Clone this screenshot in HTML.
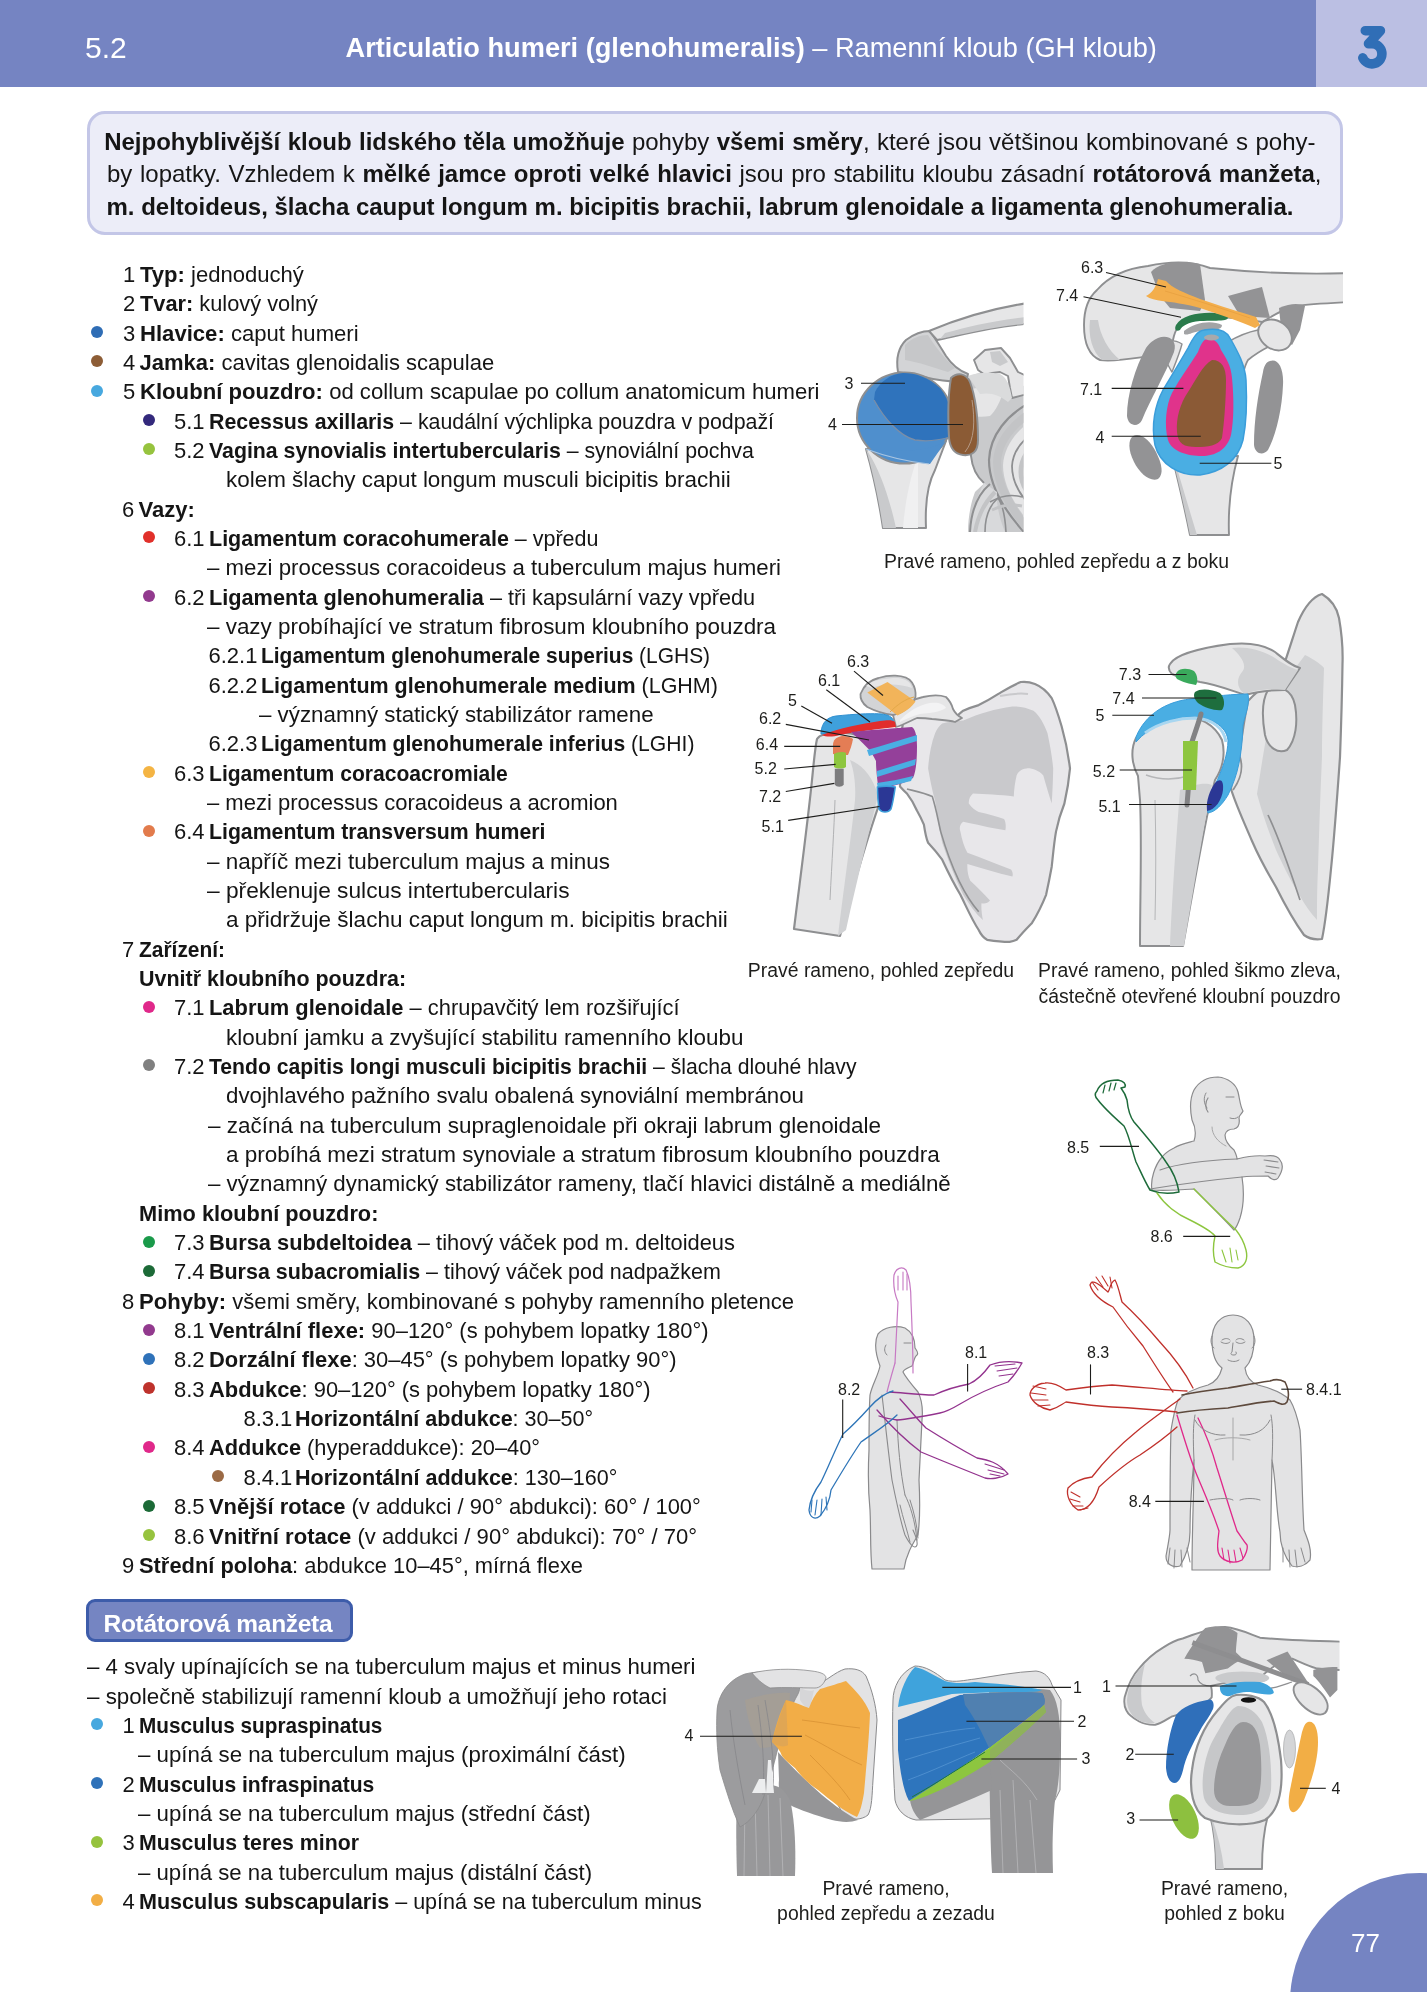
<!DOCTYPE html>
<html><head><meta charset="utf-8"><style>
*{margin:0;padding:0;box-sizing:border-box}
html,body{width:1427px;height:1992px;overflow:hidden;background:#fff}
body{position:relative;font-family:'Liberation Sans', sans-serif;color:#151515;will-change:transform}
.ln{position:absolute;white-space:nowrap;font-size:22px;line-height:30px}
.dot{position:absolute;width:12px;height:12px;border-radius:50%}
b{font-weight:bold}
#hdr{position:absolute;left:0;top:0;width:1427px;height:86.6px;background:#7584c2}
#hdr3{position:absolute;left:1316px;top:0;width:111px;height:86.6px;background:#bbbfe3}
.ht{position:absolute;color:#fff;white-space:nowrap;line-height:40px}
#intro{position:absolute;left:86.5px;top:110.8px;width:1256.3px;height:124.1px;background:#ecedf8;border:3.2px solid #c3c6e7;border-radius:18px}
.it{position:absolute;white-space:nowrap;font-size:24px;line-height:32px}
#rot{position:absolute;left:86.3px;top:1598.7px;width:267px;height:43.4px;background:#7585c2;border:3px solid #3d5caa;border-radius:9px}
#pg{position:absolute;left:1290.4px;top:1872.9px;width:259.2px;height:259.2px;border-radius:50%;background:#7584c2}
svg{position:absolute;left:0;top:0}
.cap{position:absolute;white-space:nowrap;font-size:19px;line-height:24px;text-align:center;color:#1d1d1b}
</style></head><body>
<div id="hdr"></div><div id="hdr3"></div>
<div class="ht" style="left:85px;top:27.60px;font-size:30px">5.2</div>
<div class="ht" style="left:345.5px;top:28.08px;font-size:27.2px"><b>Articulatio humeri (glenohumeralis)</b> – Ramenní kloub (GH kloub)</div>
<svg width="1427" height="90" style="position:absolute;left:0;top:0"><path d="M1365.3,30.7 H1380.4 L1368.5,43.8 H1372 A10,10 0 1 1 1362.8,57.9" fill="none" stroke="#306eb6" stroke-width="9.6" stroke-linecap="round" stroke-linejoin="round"/></svg>
<div id="intro"></div>
<div class="it" style="left:104.2px;width:1211.3px;text-align:justify;text-align-last:justify;top:125.68px"><b>Nejpohyblivější kloub lidského těla umožňuje</b> pohyby <b>všemi směry</b>, které jsou většinou kombinované s pohy-</div>
<div class="it" style="left:107px;width:1214.5px;text-align:justify;text-align-last:justify;top:158.18px">by lopatky. Vzhledem k <b>mělké jamce oproti velké hlavici</b> jsou pro stabilitu kloubu zásadní <b>rotátorová manžeta</b>,</div>
<div class="it" style="left:106.5px;top:190.68px"><b>m. deltoideus, šlacha cauput longum m. bicipitis brachii, labrum glenoidale a ligamenta glenohumeralia.</b></div>
<div class="ln" style="left:123.0px;top:259.88px">1</div>
<div class="ln" style="left:139.5px;top:259.88px;transform:scaleX(1.0026);transform-origin:0 0"><b>Typ:</b> jednoduchý</div>
<div class="ln" style="left:123.0px;top:289.22px">2</div>
<div class="ln" style="left:139.5px;top:289.22px;transform:scaleX(0.9903);transform-origin:0 0"><b>Tvar:</b> kulový volný</div>
<div class="ln" style="left:123.0px;top:318.56px">3</div>
<div class="ln" style="left:139.5px;top:318.56px;transform:scaleX(1.0042);transform-origin:0 0"><b>Hlavice:</b> caput humeri</div>
<div class="dot" style="left:91px;top:325.98px;background:#2f6db5"></div>
<div class="ln" style="left:123.0px;top:347.90px">4</div>
<div class="ln" style="left:139.5px;top:347.90px"><b>Jamka:</b> cavitas glenoidalis scapulae</div>
<div class="dot" style="left:91px;top:355.32px;background:#8d5d36"></div>
<div class="ln" style="left:123.0px;top:377.24px">5</div>
<div class="ln" style="left:139.5px;top:377.24px;transform:scaleX(1.0051);transform-origin:0 0"><b>Kloubní pouzdro:</b> od collum scapulae po collum anatomicum humeri</div>
<div class="dot" style="left:91px;top:384.66px;background:#47a8df"></div>
<div class="ln" style="left:174px;top:406.58px">5.1</div>
<div class="ln" style="left:208.5px;top:406.58px;transform:scaleX(0.9705);transform-origin:0 0"><b>Recessus axillaris</b> – kaudální výchlipka pouzdra v podpaží</div>
<div class="dot" style="left:143px;top:414.00px;background:#33297c"></div>
<div class="ln" style="left:174px;top:435.92px">5.2</div>
<div class="ln" style="left:208.5px;top:435.92px;transform:scaleX(0.9687);transform-origin:0 0"><b>Vagina synovialis intertubercularis</b> – synoviální pochva</div>
<div class="dot" style="left:143px;top:443.34px;background:#96c33e"></div>
<div class="ln" style="left:226px;top:465.26px;transform:scaleX(1.0191);transform-origin:0 0">kolem šlachy caput longum musculi bicipitis brachii</div>
<div class="ln" style="left:122.0px;top:494.60px">6</div>
<div class="ln" style="left:138.5px;top:494.60px"><b>Vazy:</b></div>
<div class="ln" style="left:174px;top:523.94px">6.1</div>
<div class="ln" style="left:208.5px;top:523.94px;transform:scaleX(0.9771);transform-origin:0 0"><b>Ligamentum coracohumerale</b> – vpředu</div>
<div class="dot" style="left:143px;top:531.36px;background:#e1302a"></div>
<div class="ln" style="left:207px;top:553.28px;transform:scaleX(1.0117);transform-origin:0 0">– mezi processus coracoideus a tuberculum majus humeri</div>
<div class="ln" style="left:174px;top:582.62px">6.2</div>
<div class="ln" style="left:208.5px;top:582.62px;transform:scaleX(0.9861);transform-origin:0 0"><b>Ligamenta glenohumeralia</b> – tři kapsulární vazy vpředu</div>
<div class="dot" style="left:143px;top:590.04px;background:#923a8e"></div>
<div class="ln" style="left:207px;top:611.96px;transform:scaleX(1.0182);transform-origin:0 0">– vazy probíhající ve stratum fibrosum kloubního pouzdra</div>
<div class="ln" style="left:208.5px;top:641.30px">6.2.1</div>
<div class="ln" style="left:260.5px;top:641.30px;transform:scaleX(0.9517);transform-origin:0 0"><b>Ligamentum glenohumerale superius</b> (LGHS)</div>
<div class="ln" style="left:208.5px;top:670.64px">6.2.2</div>
<div class="ln" style="left:260.5px;top:670.64px;transform:scaleX(0.9759);transform-origin:0 0"><b>Ligamentum glenohumerale medium</b> (LGHM)</div>
<div class="ln" style="left:259px;top:699.98px;transform:scaleX(1.0148);transform-origin:0 0">– významný statický stabilizátor ramene</div>
<div class="ln" style="left:208.5px;top:729.32px">6.2.3</div>
<div class="ln" style="left:260.5px;top:729.32px;transform:scaleX(0.9610);transform-origin:0 0"><b>Ligamentum glenohumerale inferius</b> (LGHI)</div>
<div class="ln" style="left:174px;top:758.66px">6.3</div>
<div class="ln" style="left:208.5px;top:758.66px;transform:scaleX(0.9584);transform-origin:0 0"><b>Ligamentum coracoacromiale</b></div>
<div class="dot" style="left:143px;top:766.08px;background:#f4b443"></div>
<div class="ln" style="left:207px;top:788.00px">– mezi processus coracoideus a acromion</div>
<div class="ln" style="left:174px;top:817.34px">6.4</div>
<div class="ln" style="left:208.5px;top:817.34px;transform:scaleX(0.9657);transform-origin:0 0"><b>Ligamentum transversum humeri</b></div>
<div class="dot" style="left:143px;top:824.76px;background:#e27b4c"></div>
<div class="ln" style="left:207px;top:846.68px;transform:scaleX(1.0204);transform-origin:0 0">– napříč mezi tuberculum majus a minus</div>
<div class="ln" style="left:207px;top:876.02px;transform:scaleX(1.0329);transform-origin:0 0">– překlenuje sulcus intertubercularis</div>
<div class="ln" style="left:226px;top:905.36px;transform:scaleX(1.0232);transform-origin:0 0">a přidržuje šlachu caput longum m. bicipitis brachii</div>
<div class="ln" style="left:122.0px;top:934.70px">7</div>
<div class="ln" style="left:138.5px;top:934.70px;transform:scaleX(0.9517);transform-origin:0 0"><b>Zařízení:</b></div>
<div class="ln" style="left:138.6px;top:964.04px;transform:scaleX(0.9757);transform-origin:0 0"><b>Uvnitř kloubního pouzdra:</b></div>
<div class="ln" style="left:174px;top:993.38px">7.1</div>
<div class="ln" style="left:208.5px;top:993.38px;transform:scaleX(0.9945);transform-origin:0 0"><b>Labrum glenoidale</b> – chrupavčitý lem rozšiřující</div>
<div class="dot" style="left:143px;top:1000.80px;background:#e0288a"></div>
<div class="ln" style="left:225.5px;top:1022.72px;transform:scaleX(1.0197);transform-origin:0 0">kloubní jamku a zvyšující stabilitu ramenního kloubu</div>
<div class="ln" style="left:174px;top:1052.06px">7.2</div>
<div class="ln" style="left:208.5px;top:1052.06px;transform:scaleX(0.9618);transform-origin:0 0"><b>Tendo capitis longi musculi bicipitis brachii</b> – šlacha dlouhé hlavy</div>
<div class="dot" style="left:143px;top:1059.48px;background:#808080"></div>
<div class="ln" style="left:225.5px;top:1081.40px;transform:scaleX(1.0120);transform-origin:0 0">dvojhlavého pažního svalu obalená synoviální membránou</div>
<div class="ln" style="left:207.5px;top:1110.74px;transform:scaleX(1.0211);transform-origin:0 0">– začíná na tuberculum supraglenoidale při okraji labrum glenoidale</div>
<div class="ln" style="left:225.5px;top:1140.08px;transform:scaleX(1.0221);transform-origin:0 0">a probíhá mezi stratum synoviale a stratum fibrosum kloubního pouzdra</div>
<div class="ln" style="left:207.5px;top:1169.42px;transform:scaleX(1.0147);transform-origin:0 0">– významný dynamický stabilizátor rameny, tlačí hlavici distálně a mediálně</div>
<div class="ln" style="left:138.6px;top:1198.76px;transform:scaleX(0.9894);transform-origin:0 0"><b>Mimo kloubní pouzdro:</b></div>
<div class="ln" style="left:174px;top:1228.10px">7.3</div>
<div class="ln" style="left:208.5px;top:1228.10px;transform:scaleX(0.9933);transform-origin:0 0"><b>Bursa subdeltoidea</b> – tihový váček pod m. deltoideus</div>
<div class="dot" style="left:143px;top:1235.52px;background:#1a9a4a"></div>
<div class="ln" style="left:174px;top:1257.44px">7.4</div>
<div class="ln" style="left:208.5px;top:1257.44px;transform:scaleX(0.9756);transform-origin:0 0"><b>Bursa subacromialis</b> – tihový váček pod nadpažkem</div>
<div class="dot" style="left:143px;top:1264.86px;background:#1c6a37"></div>
<div class="ln" style="left:122.0px;top:1286.78px">8</div>
<div class="ln" style="left:138.5px;top:1286.78px;transform:scaleX(1.0039);transform-origin:0 0"><b>Pohyby:</b> všemi směry, kombinované s pohyby ramenního pletence</div>
<div class="ln" style="left:174px;top:1316.12px">8.1</div>
<div class="ln" style="left:208.5px;top:1316.12px;transform:scaleX(0.9977);transform-origin:0 0"><b>Ventrální flexe:</b> 90–120° (s pohybem lopatky 180°)</div>
<div class="dot" style="left:143px;top:1323.54px;background:#923a8e"></div>
<div class="ln" style="left:174px;top:1345.46px">8.2</div>
<div class="ln" style="left:208.5px;top:1345.46px;transform:scaleX(0.9972);transform-origin:0 0"><b>Dorzální flexe</b>: 30–45° (s pohybem lopatky 90°)</div>
<div class="dot" style="left:143px;top:1352.88px;background:#2f72b9"></div>
<div class="ln" style="left:174px;top:1374.80px">8.3</div>
<div class="ln" style="left:208.5px;top:1374.80px;transform:scaleX(0.9962);transform-origin:0 0"><b>Abdukce</b>: 90–120° (s pohybem lopatky 180°)</div>
<div class="dot" style="left:143px;top:1382.22px;background:#be322c"></div>
<div class="ln" style="left:243.4px;top:1404.14px">8.3.1</div>
<div class="ln" style="left:295px;top:1404.14px;transform:scaleX(0.9781);transform-origin:0 0"><b>Horizontální abdukce</b>: 30–50°</div>
<div class="ln" style="left:174px;top:1433.48px">8.4</div>
<div class="ln" style="left:208.5px;top:1433.48px;transform:scaleX(0.9907);transform-origin:0 0"><b>Addukce</b> (hyperaddukce): 20–40°</div>
<div class="dot" style="left:143px;top:1440.90px;background:#e0288a"></div>
<div class="ln" style="left:243.4px;top:1462.82px">8.4.1</div>
<div class="ln" style="left:295px;top:1462.82px;transform:scaleX(0.9792);transform-origin:0 0"><b>Horizontální addukce</b>: 130–160°</div>
<div class="dot" style="left:211.5px;top:1470.24px;background:#9b6a45"></div>
<div class="ln" style="left:174px;top:1492.16px">8.5</div>
<div class="ln" style="left:208.5px;top:1492.16px;transform:scaleX(0.9965);transform-origin:0 0"><b>Vnější rotace</b> (v addukci / 90° abdukci): 60° / 100°</div>
<div class="dot" style="left:143px;top:1499.58px;background:#1c6a37"></div>
<div class="ln" style="left:174px;top:1521.50px">8.6</div>
<div class="ln" style="left:208.5px;top:1521.50px;transform:scaleX(1.0040);transform-origin:0 0"><b>Vnitřní rotace</b> (v addukci / 90° abdukci): 70° / 70°</div>
<div class="dot" style="left:143px;top:1528.92px;background:#96c33e"></div>
<div class="ln" style="left:122.0px;top:1550.84px">9</div>
<div class="ln" style="left:138.5px;top:1550.84px;transform:scaleX(0.9943);transform-origin:0 0"><b>Střední poloha</b>: abdukce 10–45°, mírná flexe</div>
<div class="ln" style="left:86.5px;top:1652.18px;transform:scaleX(1.0114);transform-origin:0 0">– 4 svaly upínajících se na tuberculum majus et minus humeri</div>
<div class="ln" style="left:86.5px;top:1681.52px;transform:scaleX(1.0176);transform-origin:0 0">– společně stabilizují ramenní kloub a umožňují jeho rotaci</div>
<div class="ln" style="left:122.6px;top:1710.86px">1</div>
<div class="ln" style="left:139.1px;top:1710.86px;transform:scaleX(0.9436);transform-origin:0 0"><b>Musculus supraspinatus</b></div>
<div class="dot" style="left:91px;top:1718.28px;background:#47a8df"></div>
<div class="ln" style="left:138.3px;top:1740.20px;transform:scaleX(1.0123);transform-origin:0 0">– upíná se na tuberculum majus (proximální část)</div>
<div class="ln" style="left:122.6px;top:1769.54px">2</div>
<div class="ln" style="left:139.1px;top:1769.54px;transform:scaleX(0.9576);transform-origin:0 0"><b>Musculus infraspinatus</b></div>
<div class="dot" style="left:91px;top:1776.96px;background:#2f72b9"></div>
<div class="ln" style="left:138.3px;top:1798.88px;transform:scaleX(1.0115);transform-origin:0 0">– upíná se na tuberculum majus (střední část)</div>
<div class="ln" style="left:122.6px;top:1828.22px">3</div>
<div class="ln" style="left:139.1px;top:1828.22px;transform:scaleX(0.9671);transform-origin:0 0"><b>Musculus teres minor</b></div>
<div class="dot" style="left:91px;top:1835.64px;background:#96c33e"></div>
<div class="ln" style="left:138.3px;top:1857.56px;transform:scaleX(1.0091);transform-origin:0 0">– upíná se na tuberculum majus (distální část)</div>
<div class="ln" style="left:122.6px;top:1886.90px">4</div>
<div class="ln" style="left:139.1px;top:1886.90px;transform:scaleX(0.9791);transform-origin:0 0"><b>Musculus subscapularis</b> – upíná se na tuberculum minus</div>
<div class="dot" style="left:91px;top:1894.32px;background:#f2ae45"></div>
<div id="rot"></div>
<div class="ht" style="left:103.5px;top:1608.51px;font-size:24.5px;line-height:30px;letter-spacing:-0.3px"><b>Rotátorová manžeta</b></div>
<div id="pg"></div>
<div class="ht" style="left:1351px;top:1927.69px;font-size:26px;line-height:30px">77</div>
<svg width="1427" height="1992" viewBox="0 0 1427 1992" style="font-family:'Liberation Sans',sans-serif">
<defs>
<clipPath id="c1a"><rect x="840" y="290" width="183.5" height="242"/></clipPath>
</defs>
<!-- ===== FIG 1a ===== -->
<g clip-path="url(#c1a)" stroke-linejoin="round">
 <!-- scapula neck MG -->
 <path d="M968,378 C975,372 990,370 1002,376 C1008,384 1012,390 1022,386 L1035,384 L1035,532 L968,532 C968,520 970,505 975,492 C980,487 984,484 984,483 C976,476 972,466 971,456 C969,430 968,400 968,378 Z" fill="#c9cacc"/>
 <path d="M968,380 C968,400 969,430 971,456 C972,466 976,476 984,483" fill="none" stroke="#8e8f91" stroke-width="2"/>
 <path d="M972,389 C985,386 995,388 1003,392 C1000,402 996,410 990,416 C984,417 978,417 972,416 Z" fill="#e6e6e7"/>
 <!-- big rib arc -->
 <path d="M1035,400 C1006,414 990,436 989,460 C989,486 1004,510 1024,532" fill="none" stroke="#8e8f91" stroke-width="2.2"/>
 <path d="M1035,410 C1012,424 998,442 997,462 C997,485 1010,506 1028,530" fill="none" stroke="#c3c4c6" stroke-width="8"/>
 <path d="M1035,418 C1016,430 1004,447 1003,465 C1003,485 1014,504 1030,524 L1035,524 Z" fill="#e6e6e7"/>
 <path d="M1035,432 C1022,440 1013,452 1012,466 C1012,480 1018,492 1028,503" fill="none" stroke="#8e8f91" stroke-width="1.8"/>
 <path d="M1035,445 C1026,452 1021,462 1021,472 C1021,482 1025,490 1032,497" fill="none" stroke="#c3c4c6" stroke-width="5"/>
 <!-- lower ribs -->
 <path d="M984,483 C978,495 972,510 970,532 L1005,532 C1000,520 996,505 997,492 Z" fill="#d8d9db"/>
 <path d="M970,532 C971,512 977,495 990,484" fill="none" stroke="#8e8f91" stroke-width="2"/>
 <path d="M975,532 C978,515 985,502 995,492" fill="none" stroke="#c3c4c6" stroke-width="4"/>
 <path d="M985,532 C985,515 990,505 998,498 C1003,505 1005,515 1006,532" fill="none" stroke="#8e8f91" stroke-width="1.6"/>
 <path d="M990,502 C1000,496 1012,494 1022,497" fill="none" stroke="#8e8f91" stroke-width="1.6"/>
 <path d="M992,510 C1002,505 1012,504 1022,506" fill="none" stroke="#c3c4c6" stroke-width="3"/>
 <!-- coracoid -->
 <path d="M974,360 L985,350 L1001,348 L1010,358 L1018,372 L1035,380 L1035,392 L1012,398 L1010,388 L1008,376 L1000,372 L992,373 L985,375 L978,370 Z" fill="#e6e6e7" stroke="#8e8f91" stroke-width="1.9"/>
 <path d="M990,352 L1000,351 L1008,362 L1000,366 L992,362 Z" fill="#c9cacc"/>
 <path d="M968,376 C978,372 990,372 1000,374 C1008,378 1010,388 1012,398 L1008,402 C1000,395 990,392 980,394 Z" fill="#dadbdc"/>
 <!-- acromion -->
 <path d="M898,372 C896,360 898,348 906,340 C914,334 922,331 930,331 C934,337 940,346 946,356 C952,365 960,371 968,374 L966,382 C950,382 935,380 920,376 Z" fill="#d3d4d6" stroke="#8e8f91" stroke-width="2.0"/>
 <path d="M905,345 C912,338 920,335 928,335 C934,345 944,358 955,368 L948,372 C935,368 918,362 905,360 Z" fill="#c6c7c9"/>
 <!-- clavicle -->
 <path d="M929,331 C955,320 990,308 1035,302 L1035,323 C995,326 965,334 937,340 Z" fill="#e6e6e7" stroke="#8e8f91" stroke-width="2.0"/>
 <path d="M945,333 C970,326 995,320 1035,316 L1035,323 C995,326 965,334 940,339 Z" fill="#c9cacc"/>
 <!-- humerus shaft -->
 <path d="M866,449 C872,470 878,495 883,528 L926,528 C925,505 927,485 935,470 L946,441 Z" fill="#e6e6e7" stroke="#8e8f91" stroke-width="2.0"/>
 <path d="M868,452 C880,470 890,500 896,528 L883,528 C878,495 872,470 866,449 Z" fill="#c9cacc"/>
 <path d="M918,457 C912,470 905,500 903,528 L918,528 C918,500 918,475 918,457 Z" fill="#f0f0f1"/>
 <!-- humeral head -->
 <ellipse cx="904.5" cy="418" rx="47.5" ry="45.5" fill="#4f8fcd" stroke="#8e8f91" stroke-width="2.0"/>
 <path d="M874,400 C885,420 900,436 915,440 C928,442 942,440 951,436 C954,420 950,400 940,388 C928,377 915,373 903,373 C890,374 880,382 875,392 Z" fill="#2f73bc"/>
 <path d="M874,400 C885,420 900,436 915,440 C928,442 940,440 950,437" fill="none" stroke="#7a8ea8" stroke-width="1.3"/>
 <path d="M866,449 C885,457 905,462 930,464 L946,441 C930,452 900,452 866,449 Z" fill="#4f8fcd"/>
 <path d="M866,449 C890,458 910,462 929,464" fill="none" stroke="#a8c4e0" stroke-width="1.2"/>
 <!-- glenoid -->
 <path d="M951,378 C957,372 966,373 970,382 C976,398 978,420 978,440 C978,452 972,456 963,455 C955,454 950,448 949,438 C948,420 948,395 951,378 Z" fill="#8b5b35" stroke="#8e8f91" stroke-width="2.0"/>
 <path d="M972,400 C975,420 975,440 965,452" fill="none" stroke="#b59a86" stroke-width="1"/>
</g>
<g stroke="#1d1d1b" stroke-width="1.1">
 <line x1="861" y1="383.3" x2="905" y2="383.3"/>
 <line x1="842" y1="424.5" x2="963" y2="424.5"/>
</g>
<g font-size="16" fill="#1d1d1b">
 <text x="844.5" y="388.5">3</text>
 <text x="828" y="429.7">4</text>
</g>
<!-- ===== FIG 1b ===== -->
<g stroke-linejoin="round">
 <clipPath id="c1b"><rect x="1040" y="255" width="303" height="282"/></clipPath>
 <g clip-path="url(#c1b)">
 <!-- humerus shaft -->
 <path d="M1172,456 C1178,480 1185,510 1190,535 L1229,535 C1228,510 1230,485 1238,456 Z" fill="#e6e6e7" stroke="#8e8f91" stroke-width="1.9"/>
 <path d="M1175,462 C1182,485 1190,512 1197,535 L1190,535 C1185,510 1178,480 1172,456 Z" fill="#c9cacc"/>
 <!-- scapula neck bits -->
 <path d="M1228,342 C1238,336 1248,332 1258,330 C1264,334 1268,340 1270,346 C1262,350 1254,355 1248,360 C1245,365 1244,370 1243,374 Z" fill="#e6e6e7" stroke="#8e8f91" stroke-width="1.7"/>
 <path d="M1160,342 C1168,340 1176,340 1182,344 C1180,352 1176,362 1172,372 C1168,366 1164,356 1160,348 Z" fill="#e6e6e7" stroke="#8e8f91" stroke-width="1.4"/>
 <!-- acromion + clavicle -->
 <path d="M1097,290 C1110,275 1130,268 1148,266 C1175,260 1195,262 1210,268 C1250,272 1300,275 1350,273 L1350,302 C1330,303 1310,304 1295,306 C1280,310 1270,318 1262,322 C1240,318 1215,316 1195,318 C1178,322 1175,330 1173,340 C1168,350 1160,354 1150,356 C1135,358 1115,362 1100,360 C1088,355 1084,340 1084,325 C1084,310 1088,298 1097,290 Z" fill="#e6e6e7" stroke="#8e8f91" stroke-width="1.9"/>
 <path d="M1090,320 C1088,335 1092,352 1102,360 L1120,360 C1108,350 1100,335 1098,320 Z" fill="#c9cacc"/>
 <!-- dark patches -->
 <path d="M1151,272 C1160,262 1180,260 1200,264 L1205,300 L1200,311 L1170,308 L1160,296 Z" fill="#939395"/>
 <path d="M1228,296 L1250,290 L1262,287 L1270,318 L1240,316 Z" fill="#939395"/>
 <path d="M1279,308 C1290,303 1300,303 1305,306 L1300,330 L1292,345 L1282,338 Z" fill="#939395"/>
 <!-- coracoid tip -->
 <ellipse cx="1275" cy="335" rx="18" ry="14" transform="rotate(35 1275 335)" fill="#e6e6e7" stroke="#8e8f91" stroke-width="1.9"/>
 <!-- small gray arc -->
 <path d="M1184,331 C1195,322 1212,320 1222,325 C1222,330 1215,330 1200,331 C1192,332 1188,336 1184,334 Z" fill="#a3a4a6"/>
 <!-- muscles dark gray -->
 <path d="M1158,338 C1168,334 1178,340 1174,352 C1165,375 1150,400 1142,420 C1138,428 1128,426 1127,416 C1127,395 1135,368 1146,348 C1150,342 1154,340 1158,338 Z" fill="#939395"/>
 <path d="M1133,436 C1140,432 1150,440 1156,452 C1162,464 1164,474 1158,479 C1150,482 1140,474 1134,462 C1128,450 1128,440 1133,436 Z" fill="#939395"/>
 <path d="M1270,361 C1278,358 1284,368 1283,385 C1282,410 1276,435 1268,450 C1263,456 1255,454 1254,445 C1254,420 1258,395 1263,372 C1264,366 1266,362 1270,361 Z" fill="#939395"/>
 <!-- capsule -->
 <path d="M1204,330 C1216,328 1226,330 1230,338 C1238,352 1245,365 1246,380 C1247,400 1247,420 1243,440 C1238,460 1222,472 1200,475 C1180,476 1160,465 1155,445 C1151,425 1155,405 1163,390 C1172,375 1180,362 1188,348 C1193,338 1197,331 1204,330 Z" fill="#4aaee3" stroke="#3b9dda" stroke-width="1.5"/>
 <!-- labrum -->
 <path d="M1207,339 C1214,338 1218,342 1221,350 C1226,358 1231,365 1232,378 C1234,398 1234,420 1231,435 C1227,450 1215,456 1202,456 C1188,456 1172,452 1168,440 C1164,425 1166,405 1172,393 C1180,378 1190,365 1198,352 C1201,344 1203,340 1207,339 Z" fill="#e0338b"/>
 <!-- glenoid -->
 <path d="M1212,360 C1222,360 1226,368 1226,380 C1226,400 1224,425 1222,438 C1218,446 1208,447 1196,447 C1184,447 1178,444 1177,432 C1176,418 1180,404 1188,392 C1196,380 1202,366 1212,360 Z" fill="#8b5a36"/>
 <ellipse cx="1211.5" cy="337.5" rx="7.5" ry="3" fill="#a8a9ab"/>
 <!-- green bursa 7.4 -->
 <path d="M1176,325 C1182,315 1200,312 1215,313 C1222,314 1228,315 1228,318 C1226,322 1215,320 1200,321 C1188,322 1182,326 1180,330 C1176,332 1174,329 1176,325 Z" fill="#2a7b4b"/>
 <!-- orange ligament 6.3 -->
 <path d="M1146,296 C1152,293 1156,287 1158,279 L1166,281 C1172,288 1185,293 1200,299 C1220,306 1240,312 1256,317 L1260,325 L1255,328 C1240,321 1220,315 1200,308 C1185,304 1172,302 1162,301 C1156,300 1150,299 1146,296 Z" fill="#f3ae4c"/>
 <path d="M1165,291 C1185,297 1215,306 1250,318" fill="none" stroke="#e29a3a" stroke-width="0.6"/>
 </g>
</g>
<g stroke="#1d1d1b" stroke-width="1.1">
 <line x1="1106" y1="272.5" x2="1166" y2="287"/>
 <line x1="1083.5" y1="296.7" x2="1181" y2="317.3"/>
 <line x1="1111.7" y1="388.4" x2="1183.4" y2="388.4"/>
 <line x1="1111.7" y1="436.2" x2="1200.8" y2="436.2"/>
 <line x1="1199.7" y1="463.3" x2="1271.4" y2="463.3"/>
</g>
<g font-size="16" fill="#1d1d1b">
 <text x="1081" y="273">6.3</text>
 <text x="1056" y="301">7.4</text>
 <text x="1080" y="394.5">7.1</text>
 <text x="1095.5" y="443">4</text>
 <text x="1273.5" y="468.5">5</text>
</g>
<g fill="#1d1d1b" font-size="19.4" text-anchor="middle">
 <text x="1056.5" y="567.5">Pravé rameno, pohled zepředu a z boku</text>
</g>
<!-- ===== FIG 2a ===== -->
<g stroke-linejoin="round">
 <!-- scapula -->
 <path d="M900,786.6 C903,790 905,792 907,793.6 C912,800 915,806 916.9,810.5 C920,816 922,820 923.9,824.6 C925,832 926,838 928.1,842.8 C933,848 938,854 942.2,859.7 C948,872 954,884 960.4,894.8 C966,906 972,920 978.7,930 C981,935 984,938 987.1,939.8 C995,941 1002,942 1009.6,941.9 C1012,941.5 1014,941 1016.6,939.8 C1022,933 1027,928 1032,922.9 C1037,915 1042,905 1046.1,894.8 C1048,886 1050,876 1051.7,866.7 C1053,855 1054,843 1056,831.6 C1058,822 1061,812 1064.4,803.5 C1067,792 1069,780 1070,768.4 C1068,752 1065,738 1061.6,726.2 C1058,714 1055,705 1051.7,698.1 C1046,690 1040,686 1034.9,684 C1030,682 1025,681.5 1020.8,682 C1013,685 1005,690 998.4,693.9 C992,698 985,702 978.7,705.1 C972,707 967,709 963.2,710.7 C959,714 956,717 953.4,719.2 L946,705 L925,698 L905,712 L900,740 Z" fill="#e8e7ea" stroke="#8e8f91" stroke-width="2.2"/>
 <path d="M963.2,720.6 C980,713 995,709 1012.4,706.5 C1020,706 1027,708 1033.5,710.7 C1040,716 1044,724 1047.5,733.2 C1050,745 1052,756 1053.2,768.4 C1053,780 1052.5,792 1051.7,803.5 C1049,795 1046,785 1043.3,775.4 C1038,770 1032,768 1026.5,768.4 C1021,769 1018,772 1016.6,775.4 C1015,782 1014,790 1013.8,796.5 C1000,795 985,794 973,793.6 C970,796 968.5,800 968.8,803.5 C972,808 975,810 978.7,811.9 C988,814 996,816 1004,819 C1006,822 1006,827 1005.4,830.2 C990,828 975,824 963.2,821.7 C960,824 959,828 960.4,831.6 C962,840 964,847 967.4,852.7 C982,858 996,864 1011,869.5 C1013,872 1013,875 1012.4,876.5 C997,873 982,868 967.4,863.9 C967,870 968,876 970.3,880.8 C977,887 984,894 990,900.4 C988,903 985,904 981.5,903.2 C981,909 982,915 982.9,920.1 C975,913 969,904 963.2,894.8 C955,878 948,860 942.2,842.8 C939,828 937,814 935.1,800.7 C932,790 930,779 928.1,768.4 C929,756 931,744 935.1,733.2 C937,729 939,726 942.2,723.4 C949,722 956,721 963.2,720.6 Z" fill="#c9c9cc"/>
 <path d="M907,789 C915,791 925,793 932.3,796.5 C936,808 938,820 940.7,831.6 C946,850 952,866 959,880.8 C965,893 971,903 978.7,911.7" fill="none" stroke="#8e8f91" stroke-width="1.6"/>
 <path d="M1000,696 C1010,694 1020,693 1028,694" fill="none" stroke="#c9c9cc" stroke-width="2"/>
 <!-- coracoid hook -->
 <path d="M893,715 C902,706 912,699 923,697 C932,695 940,695 946,697 C950,701 952,705 953,709 C955,713 958,716 962,718 L955,722 C948,720 940,720 932,719 C926,718 920,718 917,718 C910,721 903,725 896,727 Z" fill="#e6e6e7" stroke="#8e8f91" stroke-width="1.8"/>
 <path d="M900,720 C908,712 918,705 930,703 C938,702 944,704 946,708 C940,712 930,713 920,714 C912,716 906,719 900,722 Z" fill="#f3f3f4"/>
 <!-- acromion -->
 <path d="M860.5,694 C864,685 870,680 878.5,678 C885,676 890,675.5 895.3,675.7 C903,676 909,678 912,682.4 C915,687 916,692 915.5,697 C912,706 903,713 893,715 C885,714 875,711 867.3,707 C862,703 860,699 860.5,694 Z" fill="#d3d4d6" stroke="#8e8f91" stroke-width="1.8"/>
 <path d="M866,686 C872,680 885,678 898,678 C906,679 911,682 912,688 C900,684 885,683 872,688 Z" fill="#e6e6e7"/>
 <path d="M867.3,692.5 L887.5,681.9 L915.5,701.5 C912,707 905,712 897.5,715.5 Z" fill="#f2b45a"/>
 <path d="M890,712 C897,705 905,699 914,697" fill="none" stroke="#e3a848" stroke-width="1"/>
 <!-- humerus -->
 <path d="M817,739 C820,734 830,732 845,733 C860,734 872,740 880,752 C884,770 883,790 880,802 C870,830 855,880 840,936 L794,929 C800,880 808,820 812,780 C814,760 815,748 817,739 Z" fill="#e6e6e7" stroke="#8e8f91" stroke-width="2.2"/>
 <path d="M850,760 C862,765 872,775 878,795 C870,830 858,875 846,930 L838,936 C845,880 852,830 855,800 C856,785 854,770 850,760 Z" fill="#d0d1d3"/>
 <path d="M835,800 C834,830 832,860 830,900" fill="none" stroke="#b0b1b3" stroke-width="1"/>
 <!-- capsule colored parts -->
 <path d="M821,732 C822,722 828,717 836,716 C855,714 868,713.5 878.5,713.8 C886,714 891,716 893,719.4 L894,724 C870,727 845,730 821,734 Z" fill="#3fa0dc" stroke="#2f8fd0" stroke-width="1"/>
 <path d="M822,735 C840,728 860,724 880,721 C888,720 893,720 895,722 L896,727 C880,729 860,731 840,735 C832,737 826,737 822,735 Z" fill="#e12d2c"/>
 <path d="M851,732 C870,730 895,728 912,727 C916,730 917,738 917,746 C917,760 916,772 913,778 C905,783 895,786 878.5,789 C877,778 876,768 876,761 C873,755 870,750 867,747.5 C862,742 856,737 851,732 Z" fill="#94409a"/>
 <path d="M867,750 C885,745 900,740 917,735 L917,741 C900,746 885,751 869,756 Z" fill="#4aaee3"/>
 <path d="M877,771 C890,767 903,763 916,759 L915,765 C902,769 890,773 877,777 Z" fill="#4aaee3"/>
 <path d="M877,783 C890,781 902,779 913,776 L911,781 C900,784 890,786 878,789 Z" fill="#4aaee3"/>
 <path d="M833,745 C833,740 836,737 842,736 C847,736 851,737 853,739 C852,745 850,750 848,755 C843,755 837,755 833,754 Z" fill="#e47d55"/>
 <path d="M834,754 C837,752 843,751 846,753 L846,767 C843,769 837,769 834,767 Z" fill="#8dc63f"/>
 <path d="M834.8,768.8 L843.7,768.8 L843.7,784.5 C842,787.5 836.5,787.5 834.8,784.5 Z" fill="#7c7c7e"/>
 <path d="M877.4,787 C883,786 890,786 895.3,787 C894,795 893,803 891,809 C888,813 882,813 879,809 C878,802 877.5,794 877.4,787 Z" fill="#2b3795" stroke="#3b9dda" stroke-width="1.5"/>
</g>
<g stroke="#1d1d1b" stroke-width="1.1">
 <line x1="854" y1="671.2" x2="883" y2="695.5"/>
 <line x1="826.3" y1="689.7" x2="870" y2="722"/>
 <line x1="801.3" y1="706" x2="832" y2="723.3"/>
 <line x1="785.8" y1="724.4" x2="869" y2="740"/>
 <line x1="784.2" y1="746.4" x2="840.2" y2="746.4"/>
 <line x1="784.2" y1="769" x2="835.6" y2="764.4"/>
 <line x1="785.8" y1="791.5" x2="834.4" y2="783.4"/>
 <line x1="788.2" y1="820.4" x2="879.5" y2="806.5"/>
</g>
<g font-size="16" fill="#1d1d1b">
 <text x="847" y="666.6">6.3</text>
 <text x="818" y="685.8">6.1</text>
 <text x="788" y="706">5</text>
 <text x="759" y="724.4">6.2</text>
 <text x="755.8" y="749.8">6.4</text>
 <text x="754.6" y="773.7">5.2</text>
 <text x="759" y="801.9">7.2</text>
 <text x="761.6" y="831.5">5.1</text>
</g>
<!-- ===== FIG 2b ===== -->
<g stroke-linejoin="round">
 <!-- scapula -->
 <path d="M1322,594 C1332,600 1337,608 1339,618 C1342,635 1343,650 1342.5,664 C1342,700 1341,730 1340,757 C1337,800 1334,840 1331,869 C1328,900 1325,925 1322,939 C1315,940 1308,938 1304,935 C1293,920 1285,905 1276,887 C1266,870 1258,855 1252,841 C1243,820 1236,805 1231,789 C1232,775 1235,765 1239,757 C1242,735 1245,715 1248,701 C1258,690 1268,683 1280,676 C1286,660 1292,640 1298,622 C1305,606 1312,597 1322,594 Z" fill="#e6e6e7" stroke="#8e8f91" stroke-width="2.2"/>
 <path d="M1305,655 C1315,660 1322,665 1324,668 C1323,700 1322,730 1322,757 C1320,800 1319,840 1318,869 C1317,890 1317,905 1317,920 C1310,912 1305,905 1300,896 C1290,880 1283,865 1276,850 C1268,830 1262,812 1257,794 C1260,775 1263,755 1266,739 C1272,715 1278,695 1285,683 C1292,672 1300,662 1305,655 Z" fill="#d0d1d3"/>
 <path d="M1268,690 C1280,684 1292,690 1295,705 C1298,722 1296,740 1287,750 C1278,754 1268,748 1265,735 C1262,718 1262,700 1268,690 Z" fill="#e6e6e7" stroke="#8e8f91" stroke-width="2.0"/>
 <path d="M1246,705 C1238,720 1236,740 1240,757 C1244,770 1240,780 1233,790" fill="none" stroke="#8e8f91" stroke-width="1.9"/>
 <path d="M1268,815 C1280,840 1290,870 1300,900" fill="none" stroke="#8e8f91" stroke-width="1.7"/>
 <!-- acromion -->
 <path d="M1170,664 C1175,655 1200,648 1230,644 C1250,642 1265,645 1275,652 C1285,660 1292,666 1300,668 L1285,690 C1270,690 1255,692 1245,695 C1230,690 1215,684 1200,682 C1190,680 1180,678 1172,674 C1168,670 1168,667 1170,664 Z" fill="#e6e6e7" stroke="#8e8f91" stroke-width="2.0"/>
 <path d="M1232,648 C1245,646 1262,650 1275,658 C1285,665 1292,668 1298,670 L1285,690 C1270,688 1255,690 1245,694 C1238,690 1235,680 1242,672 C1248,665 1240,655 1232,648 Z" fill="#d0d1d3"/>
 <!-- humerus -->
 <path d="M1138,776 C1132,765 1130,750 1136,738 C1145,725 1160,718 1180,716 C1200,716 1215,725 1222,740 C1226,755 1222,770 1215,780 C1205,820 1195,880 1183,946 L1140,946 C1140,900 1142,840 1140,800 Z" fill="#e6e6e7" stroke="#8e8f91" stroke-width="2.0"/>
 <path d="M1180,790 C1192,785 1205,782 1212,785 C1205,820 1195,880 1184,946 L1170,946 C1172,900 1176,840 1180,790 Z" fill="#d0d1d3"/>
 <path d="M1146,775 C1160,780 1175,780 1188,776" fill="none" stroke="#b5b6b8" stroke-width="1.5"/>
 <path d="M1155,800 C1156,840 1156,880 1155,920" fill="none" stroke="#b5b6b8" stroke-width="1"/>
 <!-- capsule -->
 <path d="M1136,737 C1145,715 1165,702 1190,699 C1215,696 1235,694 1248,694 C1250,705 1245,715 1243,725 C1242,755 1238,775 1228,795 C1222,805 1215,812 1208,813 C1206,805 1210,795 1215,785 C1222,770 1228,755 1228,740 C1226,725 1210,717 1190,717 C1170,718 1150,726 1136,742 Z" fill="#4aaee3" stroke="#3a9ddb" stroke-width="1"/>
 <path d="M1145,733 C1160,722 1180,718 1195,718 C1212,719 1224,728 1226,742" fill="none" stroke="#a8d6f0" stroke-width="3"/>
 <!-- tendon -->
 <path d="M1201,714 C1198,725 1194,735 1191,745 L1189,780 L1187,805" fill="none" stroke="#828284" stroke-width="5" stroke-linecap="round"/>
 <path d="M1183,741 L1198,741 L1196,790 L1183,790 Z" fill="#8dc63f"/>
 <path d="M1207,810 C1206,800 1210,790 1215,783 C1220,778 1224,780 1223,790 C1222,800 1215,810 1207,811 Z" fill="#2b3795"/>
 <!-- bursae -->
 <path d="M1177,672 C1180,668 1188,668 1194,671 C1198,675 1198,682 1196,685 C1190,684 1182,682 1177,679 C1175,677 1175,674 1177,672 Z" fill="#3aaa5c"/>
 <path d="M1195,692 C1200,688 1212,689 1220,693 C1225,698 1225,706 1222,710 C1215,711 1205,708 1198,703 C1194,699 1193,695 1195,692 Z" fill="#1e6e3e"/>
</g>
<g stroke="#1d1d1b" stroke-width="1.1">
 <line x1="1148.5" y1="674.5" x2="1186.6" y2="674.5"/>
 <line x1="1142" y1="698" x2="1216.3" y2="698"/>
 <line x1="1112.3" y1="715.3" x2="1154" y2="715.3"/>
 <line x1="1119.7" y1="770" x2="1192" y2="770"/>
 <line x1="1129" y1="804.5" x2="1211.6" y2="804.5"/>
</g>
<g font-size="16" fill="#1d1d1b">
 <text x="1118.8" y="680">7.3</text>
 <text x="1112.3" y="704.2">7.4</text>
 <text x="1095.6" y="721">5</text>
 <text x="1092.8" y="776.6">5.2</text>
 <text x="1098.4" y="812">5.1</text>
</g>
<g fill="#1d1d1b" font-size="19.4" text-anchor="middle">
 <text x="881" y="977">Pravé rameno, pohled zepředu</text>
 <text x="1189.5" y="977">Pravé rameno, pohled šikmo zleva,</text>
 <text x="1189.5" y="1002.6">částečně otevřené kloubní pouzdro</text>
</g>
<!-- ===== FIG 3 rotation ===== -->
<g stroke-linejoin="round" stroke-linecap="round">
 <path d="M1174,1148 C1180,1144 1186,1143 1194,1141 C1196,1135 1196,1128 1192,1120 C1190,1110 1190,1098 1194,1090 C1200,1080 1210,1077 1218,1077 C1228,1078 1236,1084 1238,1092 C1240,1100 1240,1106 1243,1111 C1242,1114 1239,1115 1239,1118 C1240,1124 1238,1128 1234,1129 C1230,1129 1226,1130 1225,1135 C1225,1140 1228,1145 1234,1150 C1236,1154 1237,1157 1237,1159 C1245,1157 1255,1155 1265,1156 C1272,1155 1278,1156 1280,1160 C1284,1165 1282,1172 1278,1178 C1275,1182 1270,1178 1268,1176 C1260,1176 1250,1176 1242,1177 C1244,1190 1244,1205 1240,1218 C1238,1224 1236,1228 1234,1230 C1225,1220 1205,1200 1194,1189 C1180,1190 1165,1191 1152,1190 C1150,1180 1155,1165 1162,1157 C1166,1152 1170,1150 1174,1148 Z" fill="#e3e3e4" stroke="#8a8a8c" stroke-width="1.2"/>
 <path d="M1160,1170 C1180,1163 1210,1160 1237,1159" fill="none" stroke="#8a8a8c" stroke-width="1.2"/>
 <path d="M1150,1189 C1175,1185 1210,1180 1242,1177" fill="none" stroke="#8a8a8c" stroke-width="1.2"/>
 <path d="M1206,1093 C1203,1098 1204,1104 1207,1108" fill="none" stroke="#8a8a8c" stroke-width="1"/>
 <path d="M1212,1127 C1212,1135 1218,1142 1226,1146" fill="none" stroke="#a0a0a2" stroke-width="0.9"/>
 <!-- dark green raised arm -->
 <path d="M1097,1091 C1100,1083 1108,1080 1118,1080 C1124,1081 1126,1084 1125,1087 L1121,1088 C1124,1092 1126,1096 1127,1100 C1128,1110 1131,1118 1134,1122 C1145,1135 1158,1150 1166,1162 C1172,1170 1177,1180 1179,1192 C1170,1194 1160,1194 1150,1190 C1144,1180 1140,1170 1136,1162 C1132,1150 1129,1135 1124,1126 C1115,1118 1104,1108 1098,1100 C1095,1097 1094,1094 1097,1091 Z" fill="none" stroke="#1d6b3a" stroke-width="1.5"/>
 <path d="M1105,1085 L1103,1093 M1111,1083 L1109,1091 M1116,1083 L1114,1090" stroke="#1d6b3a" stroke-width="1.2"/>
 <!-- light green lowered arm -->
 <path d="M1157,1193 C1165,1205 1178,1215 1190,1220 C1200,1225 1210,1230 1215,1236 C1213,1245 1213,1255 1215,1262 C1222,1266 1230,1268 1238,1268 C1246,1266 1248,1258 1246,1250 C1244,1242 1240,1235 1236,1230 C1225,1220 1205,1200 1194,1189" fill="none" stroke="#8dc63f" stroke-width="1.4"/>
 <path d="M1222,1250 L1226,1262 M1230,1248 L1232,1262 M1236,1250 L1238,1260" stroke="#8dc63f" stroke-width="1.1"/>
</g>
<g stroke="#1d1d1b" stroke-width="1.1">
 <line x1="1099.8" y1="1146.4" x2="1139" y2="1146.4"/>
 <line x1="1183.2" y1="1236.4" x2="1230.2" y2="1236.4"/>
</g>
<g font-size="16" fill="#1d1d1b">
 <text x="1067" y="1152.5">8.5</text>
 <text x="1150.5" y="1242">8.6</text>
</g>
<!-- ===== FIG 4a side body ===== -->
<g stroke-linejoin="round" stroke-linecap="round">
 <path d="M880,1366 C876,1355 874,1342 878,1334 C884,1327 896,1325 905,1328 C912,1332 915,1340 915,1348 C917,1351 919,1353 917,1355 C914,1357 914,1362 912,1366 C908,1368 904,1369 903,1372 C906,1378 912,1385 918,1392 C922,1400 923,1410 922,1420 C921,1440 920,1460 919,1480 C920,1500 920,1520 918,1535 C912,1545 906,1555 904,1569 L872,1569 C870,1550 871,1530 870,1510 C868,1490 868,1470 869,1450 C869,1430 869,1410 870,1395 C872,1385 878,1376 880,1366 Z" fill="#e3e3e4" stroke="#8a8a8c" stroke-width="1.2"/>
 <path d="M882,1395 C885,1420 888,1450 892,1480 C896,1500 900,1520 905,1535 C910,1545 915,1550 917,1545 C918,1540 915,1535 913,1530" fill="none" stroke="#8a8a8c" stroke-width="1.1"/>
 <path d="M897,1420 C898,1445 900,1470 905,1495" fill="none" stroke="#8a8a8c" stroke-width="1"/>
 <!-- pink raised arm -->
 <path d="M895,1363 C896,1345 897,1320 898,1302 C895,1295 893,1285 894,1275 C896,1268 902,1266 906,1270 C910,1278 911,1290 911,1302 C912,1325 913,1350 913,1373" fill="none" stroke="#c77ac4" stroke-width="1.2"/>
 <path d="M887,1392 C890,1380 893,1370 895,1363" fill="none" stroke="#c77ac4" stroke-width="1.2"/>
 <!-- purple forward -->
 <path d="M890,1392 C905,1393 920,1395 934,1395 C945,1390 958,1386 969,1384 C978,1380 985,1372 990,1365 C998,1362 1008,1360 1022,1363 C1018,1370 1012,1378 1008,1382 C990,1388 975,1395 960,1404 C950,1410 945,1412 940,1413 C925,1416 910,1419 897,1420 C890,1419 884,1418 879,1416" fill="none" stroke="#93338e" stroke-width="1.3"/>
 <!-- purple down-forward -->
 <path d="M900,1399 C910,1410 918,1420 926,1428 C945,1440 962,1450 977,1458 C988,1460 998,1462 1008,1474 C1000,1479 990,1479 985,1478 C965,1470 940,1460 921,1452 C905,1440 890,1425 877,1410" fill="none" stroke="#93338e" stroke-width="1.3"/>
 <!-- blue backward -->
 <path d="M893,1391 C885,1393 876,1400 869,1408 C860,1418 850,1428 843,1434 C835,1450 828,1468 821,1482 C815,1490 810,1500 809,1510 C810,1518 815,1520 820,1516 C825,1510 830,1500 831,1490 C840,1475 850,1458 861,1442 C875,1432 888,1424 897,1415" fill="none" stroke="#2e75b8" stroke-width="1.3"/>
</g>
<g stroke="#1d1d1b" stroke-width="1.1">
 <line x1="967.6" y1="1364" x2="967.6" y2="1391.4"/>
 <line x1="842.7" y1="1399.4" x2="842.7" y2="1438"/>
</g>
<g font-size="16" fill="#1d1d1b">
 <text x="965" y="1357.5">8.1</text>
 <text x="838" y="1394.6">8.2</text>
</g>
<!-- ===== FIG 4b front body ===== -->
<g stroke-linejoin="round" stroke-linecap="round">
 <path d="M1222,1368 C1214,1362 1212,1352 1212,1340 C1212,1325 1220,1315 1233,1315 C1246,1315 1254,1325 1254,1340 C1254,1352 1251,1362 1245,1368 C1246,1376 1250,1382 1258,1385 C1270,1388 1282,1392 1290,1400 C1296,1410 1298,1420 1300,1430 C1302,1460 1302,1500 1304,1530 C1308,1540 1312,1550 1310,1560 C1305,1566 1298,1568 1292,1566 C1284,1556 1280,1545 1280,1532 C1276,1510 1276,1480 1272,1460 L1270,1570 L1192,1570 C1192,1530 1194,1490 1194,1460 C1192,1480 1190,1510 1190,1532 C1190,1545 1186,1556 1180,1566 C1172,1568 1166,1564 1166,1556 C1168,1545 1170,1535 1170,1530 C1170,1500 1170,1460 1171,1430 C1173,1418 1175,1408 1178,1400 C1186,1392 1196,1388 1208,1385 C1216,1382 1220,1376 1222,1368 Z" fill="#e3e3e4" stroke="#8a8a8c" stroke-width="1.2"/>
 <path d="M1194,1460 C1193,1440 1193,1425 1195,1415 M1272,1460 C1273,1440 1273,1425 1271,1415" fill="none" stroke="#8a8a8c" stroke-width="1"/>
 <path d="M1233,1418 L1233,1460 M1215,1440 C1225,1437 1240,1437 1250,1440" fill="none" stroke="#a0a0a2" stroke-width="0.9"/>
 <!-- red arms -->
 <path d="M1193,1388 C1185,1372 1172,1355 1159,1341 C1148,1328 1135,1314 1122,1302 C1120,1295 1118,1285 1115,1280 C1110,1282 1110,1290 1108,1292 C1100,1285 1092,1278 1090,1285 C1093,1295 1105,1303 1113,1307 C1122,1320 1132,1333 1143,1346 C1153,1362 1163,1378 1173,1392" fill="none" stroke="#c0302b" stroke-width="1.3"/>
 <path d="M1187,1391 C1165,1390 1140,1387 1112,1385 C1095,1386 1080,1388 1066,1390 C1060,1386 1052,1382 1045,1383 C1035,1384 1030,1390 1030,1395 C1032,1402 1040,1408 1050,1410 C1058,1408 1062,1404 1066,1402 C1080,1404 1095,1406 1112,1407 C1135,1408 1158,1410 1177,1412" fill="none" stroke="#c0302b" stroke-width="1.3"/>
 <path d="M1180,1399 C1165,1410 1150,1420 1136,1432 C1120,1445 1105,1460 1092,1477 C1085,1478 1075,1480 1068,1488 C1066,1495 1070,1505 1078,1510 C1088,1510 1095,1500 1099,1487 C1112,1475 1126,1463 1140,1455 C1155,1445 1168,1435 1177,1427" fill="none" stroke="#c0302b" stroke-width="1.3"/>
 <!-- brown arm across -->
 <path d="M1177,1413 C1195,1410 1210,1409 1228,1408 C1245,1405 1260,1402 1274,1401 C1280,1404 1284,1406 1287,1402 C1290,1395 1288,1388 1285,1382 C1280,1379 1275,1379 1270,1381 C1255,1383 1240,1386 1228,1388 C1210,1390 1195,1392 1182,1395" fill="none" stroke="#5e4a3d" stroke-width="1.6"/>
 <!-- pink arm -->
 <path d="M1177,1415 C1183,1435 1189,1455 1196,1473 C1203,1490 1212,1510 1219,1531 C1218,1540 1216,1550 1220,1556 C1225,1562 1235,1564 1242,1560 C1246,1555 1248,1548 1247,1545 C1243,1540 1240,1535 1237,1531 C1230,1510 1224,1490 1217,1468 C1212,1450 1205,1432 1198,1418" fill="none" stroke="#e0288a" stroke-width="1.3"/>
</g>
<g stroke="#1d1d1b" stroke-width="1.1">
 <line x1="1090.5" y1="1364.4" x2="1090.5" y2="1394.5"/>
 <line x1="1281.3" y1="1389.2" x2="1302.1" y2="1389.2"/>
 <line x1="1155.3" y1="1501.4" x2="1203.9" y2="1501.4"/>
</g>
<g font-size="16" fill="#1d1d1b">
 <text x="1087" y="1357.5">8.3</text>
 <text x="1306" y="1394.5">8.4.1</text>
 <text x="1128.7" y="1506.7">8.4</text>
</g>
<!-- ===== FIG 5a anterior ===== -->
<g stroke-linejoin="round">
 <!-- scapula light border -->
 <path d="M782,1700 C790,1690 800,1686 815,1686 C825,1682 835,1672 845,1669 C855,1668 862,1670 866,1676 C872,1690 876,1705 877,1720 C876,1740 874,1760 873,1780 C872,1795 872,1808 868,1815 C862,1820 852,1820 845,1818 Z" fill="#e3e3e4" stroke="#8a8a8c" stroke-width="1"/>
 <!-- dark gray lateral band (teres) -->
 <path d="M778,1752 C790,1765 805,1780 822,1795 C835,1806 848,1815 858,1820 C850,1823 840,1822 832,1820 C815,1815 800,1810 790,1805 C780,1798 778,1790 779,1780 Z" fill="#959597"/>
 <!-- arm -->
 <path d="M737,1793 C736,1815 736,1845 737,1876 L795,1876 C796,1850 795,1820 790,1800 C785,1790 778,1785 770,1785 C755,1785 745,1788 737,1793 Z" fill="#98989a"/>
 <path d="M745,1800 L744,1876 M755,1798 L757,1876 M768,1795 L770,1876 M780,1798 L783,1876" stroke="#b8b8ba" stroke-width="0.8"/>
 <!-- deltoid -->
 <path d="M717,1711 C718,1695 728,1680 745,1674 C760,1670 780,1672 795,1678 C800,1682 801,1688 798,1694 C792,1705 785,1720 780,1740 C775,1760 770,1780 765,1793 C760,1810 750,1822 740,1827 C732,1810 726,1790 720,1770 C717,1750 716,1730 717,1711 Z" fill="#9c9c9e" stroke="#8a8a8c" stroke-width="0.8"/>
 <path d="M745,1700 C760,1695 775,1692 790,1693 L788,1740 C780,1745 770,1748 760,1748 C752,1735 747,1718 745,1700 Z" fill="#a49e96"/>
 <path d="M765,1700 C770,1730 775,1760 773,1790 M758,1705 C762,1735 765,1765 763,1795 M730,1710 C733,1740 738,1770 745,1805" fill="none" stroke="#87878a" stroke-width="0.8"/>
 <!-- tendons white -->
 <path d="M768,1760 L771,1760 L774,1793 L766,1793 Z" fill="#ecedee"/>
 <path d="M759,1779 L765,1779 L766,1793 L752,1793 Z" fill="#ecedee"/>
 <!-- clavicle/acromion top -->
 <path d="M752,1673 C770,1669 790,1668 812,1671 C820,1672 826,1674 826,1678 C824,1684 820,1688 815,1688 C800,1688 785,1687 770,1688 C762,1684 756,1678 752,1673 Z" fill="#e3e3e4" stroke="#8a8a8c" stroke-width="0.8"/>
 <path d="M800,1688 C805,1690 810,1692 814,1690 L810,1708 C806,1708 803,1705 800,1700 Z" fill="#d6d6d8"/>
 <!-- subscapularis orange -->
 <path d="M786,1700 C795,1702 803,1706 809,1708 C812,1700 815,1694 820,1689 C830,1686 840,1683 846,1681 C855,1690 865,1700 870,1713 C869,1740 866,1770 864,1793 C862,1805 860,1812 857,1817 C845,1812 830,1800 818,1790 C810,1785 800,1775 795,1768 C790,1764 785,1760 782,1756 C780,1750 776,1746 772,1742 C775,1728 780,1712 786,1700 Z" fill="#f2ad47"/>
 <path d="M772,1742 C776,1728 781,1712 786,1700 L788,1745 C783,1748 777,1746 772,1742 Z" fill="#d8a25a" opacity="0.7"/>
 <path d="M802,1720 C820,1722 840,1726 860,1728 M805,1735 C825,1745 845,1758 862,1765 M810,1755 C825,1770 840,1785 850,1800" fill="none" stroke="#d48e30" stroke-width="0.7"/>
</g>
<line x1="700" y1="1736.3" x2="801.9" y2="1736.3" stroke="#1d1d1b" stroke-width="1.1"/>
<text x="684.5" y="1740.5" font-size="16" fill="#1d1d1b">4</text>
<!-- ===== FIG 5b posterior ===== -->
<g stroke-linejoin="round">
 <path d="M893,1700 C893,1688 900,1672 915,1666 C925,1666 935,1672 945,1680 C955,1683 965,1680 975,1679 C995,1676 1015,1672 1036,1671 C1045,1672 1050,1678 1052,1685 L1061,1700 L1060,1790 C1055,1800 1050,1810 1045,1818 L916,1820 C905,1818 897,1810 895,1800 C893,1770 892,1730 893,1700 Z" fill="#e3e3e4" stroke="#8a8a8c" stroke-width="1"/>
 <!-- arm gray -->
 <path d="M989,1690 C1010,1688 1035,1688 1050,1690 C1058,1700 1061,1720 1060,1750 C1060,1770 1058,1790 1055,1800 C1053,1820 1052,1845 1053,1873 L992,1873 C990,1840 990,1790 989,1760 Z" fill="#959597"/>
 <path d="M1000,1760 C1010,1770 1025,1780 1037,1800 M1013,1780 L1018,1873 M1000,1790 L1003,1873 M1030,1800 L1036,1873" fill="none" stroke="#b8b8ba" stroke-width="0.8"/>
 <!-- teres major dark gray -->
 <path d="M910,1800 C930,1785 960,1770 990,1760 L992,1790 C970,1800 945,1810 920,1820 C915,1815 911,1808 910,1800 Z" fill="#959597"/>
 <!-- infraspinatus -->
 <path d="M898,1720 C920,1712 940,1702 960,1695 C985,1693 1015,1692 1042,1693 C1045,1697 1045,1702 1044,1705 C1025,1720 1005,1735 989,1748 C965,1765 935,1785 909,1801 C903,1790 900,1770 898,1750 Z" fill="#2e75bd"/>
 <path d="M963,1694 C985,1693 1015,1692 1042,1693 C1045,1697 1045,1702 1044,1705 C1025,1720 1005,1735 989,1748 C983,1735 975,1718 965,1705 Z" fill="#5080b0"/>
 <path d="M905,1740 C930,1735 950,1730 975,1728 M905,1760 C930,1752 955,1745 980,1738 M908,1780 C935,1770 955,1760 975,1752" fill="none" stroke="#5a9ad6" stroke-width="0.7"/>
 <!-- supraspinatus -->
 <path d="M898,1707 C900,1690 907,1675 915,1667 C925,1669 935,1676 945,1681 C955,1684 965,1683 975,1682 C1000,1684 1025,1686 1042,1690 C1040,1692 1030,1692 1010,1692 C990,1692 970,1693 952,1694 C935,1698 915,1703 898,1707 Z" fill="#3fa3dc"/>
 <!-- teres minor green -->
 <path d="M909,1801 C935,1785 965,1765 989,1748 C1010,1733 1030,1718 1044,1705 L1046,1712 C1030,1728 1010,1745 990,1762 C965,1778 940,1792 915,1800 Z" fill="#8dc63f"/>
 <path d="M990,1750 C1008,1735 1028,1720 1044,1705 L1046,1712 C1030,1728 1010,1745 990,1762 Z" fill="#8fb25a"/>
 <path d="M912,1797 C935,1784 960,1768 985,1752" fill="none" stroke="#1e7a3a" stroke-width="1"/>
</g>
<g stroke="#1d1d1b" stroke-width="1.1">
 <line x1="942.3" y1="1687.4" x2="1071" y2="1687.4"/>
 <line x1="966.4" y1="1721.3" x2="1074" y2="1721.3"/>
 <line x1="981.4" y1="1759" x2="1077.1" y2="1759"/>
</g>
<g font-size="16" fill="#1d1d1b">
 <text x="1073" y="1692.7">1</text>
 <text x="1077.5" y="1726.6">2</text>
 <text x="1081.5" y="1764.2">3</text>
</g>
<!-- ===== FIG 5c lateral ===== -->
<clipPath id="c5c"><rect x="1090" y="1615" width="249.5" height="260"/></clipPath>
<g stroke-linejoin="round" clip-path="url(#c5c)">
 <!-- humerus shaft -->
 <path d="M1210,1815 C1214,1830 1216,1850 1216,1869 L1262,1869 C1262,1850 1264,1830 1268,1815 Z" fill="#e6e6e7" stroke="#8e8f91" stroke-width="1.9"/>
 <path d="M1212,1818 C1218,1835 1222,1852 1224,1869 L1216,1869 C1216,1850 1214,1830 1210,1815 Z" fill="#c9cacc"/>
 <!-- acromion + clavicle -->
 <path d="M1124.7,1697 C1128,1685 1132,1676 1139.2,1668.4 C1146,1660 1154,1653 1163.4,1647.4 C1170,1643 1176,1640 1182.7,1638.5 C1195,1634 1210,1628 1225,1627 C1238,1628 1250,1634 1260,1637.7 C1285,1640 1312,1641 1345,1641.8 L1345,1670 C1330,1670 1322,1669 1316.5,1668.4 C1308,1666 1300,1662 1292.3,1658.7 C1280,1662 1270,1668 1262,1676 C1245,1680 1225,1682 1211,1686 C1212,1690 1212,1694 1211.7,1697.4 C1206,1704 1200,1708 1195.6,1710.3 C1188,1712 1180,1714 1171.4,1716.7 C1166,1720 1160,1724 1155.3,1724.8 C1150,1725 1144,1724 1139.2,1721.5 C1133,1718 1128,1714 1126.3,1710.3 C1124,1706 1124,1701 1124.7,1697 Z" fill="#e6e6e7" stroke="#8e8f91" stroke-width="1.9"/>
 <path d="M1127,1700 C1128,1685 1135,1672 1145,1664 C1142,1675 1140,1690 1142,1705 C1144,1712 1148,1718 1155,1723 C1147,1724 1140,1722 1134,1717 C1129,1712 1127,1706 1127,1700 Z" fill="#c9cacc"/>
 <path d="M1184.3,1658.7 C1188,1652 1192,1646 1195.6,1641 C1199,1636 1202,1631 1205.3,1628 C1212,1626 1218,1626 1224.6,1626.4 C1229,1628 1234,1630 1237.5,1632.9 C1237,1640 1236,1646 1235.9,1652.2 C1238,1654 1240,1656 1242.3,1658.7 C1237,1662 1232,1665 1227.8,1668.4 C1220,1670 1212,1672 1205.3,1673.2 C1204,1669 1203,1665 1202,1661.9 C1196,1660 1190,1659 1184.3,1658.7 Z" fill="#939395"/>
 <path d="M1266.5,1660.3 L1287.5,1651.4 L1308.4,1682.9 L1292.3,1681.3 Z" fill="#939395"/>
 <path d="M1313.3,1670 C1322,1667 1330,1666.7 1337.4,1667 L1337.4,1690 L1330,1697.4 C1325,1690 1318,1680 1313.3,1676 Z" fill="#939395"/>
 <path d="M1192.4,1642.6 L1308.4,1684.5" stroke="#8e8e90" stroke-width="5"/>
 <path d="M1296,1684 C1302,1680 1312,1684 1320,1692 C1328,1700 1330,1708 1325,1713 C1320,1717 1310,1713 1302,1705 C1294,1697 1291,1688 1296,1684 Z" fill="#e6e6e7" stroke="#8e8f91" stroke-width="1.9"/>
 <ellipse cx="1242.3" cy="1678" rx="27" ry="6.5" fill="#c9cacc"/>
 <path d="M1190,1676 C1194,1672 1198,1674 1198,1680 C1200,1684 1205,1686 1211,1686" fill="none" stroke="#8e8f91" stroke-width="1.2"/>
 <path d="M1262,1688 C1270,1690 1280,1686 1292,1682" fill="none" stroke="#8e8f91" stroke-width="1.2"/>
 <!-- glenoid -->
 <path d="M1236,1695 C1245,1694 1258,1696 1264,1702 C1272,1712 1278,1735 1281,1760 C1283,1785 1280,1810 1265,1820 C1250,1826 1225,1826 1205,1818 C1193,1810 1189,1790 1192,1770 C1195,1745 1205,1725 1218,1710 C1225,1702 1230,1696 1236,1695 Z" fill="#e6e6e7" stroke="#8e8f91" stroke-width="2.2"/>
 <path d="M1238,1706 C1248,1706 1256,1712 1262,1722 C1270,1740 1272,1770 1271,1790 C1268,1808 1258,1815 1240,1815 C1222,1815 1208,1810 1204,1798 C1200,1780 1205,1755 1213,1740 C1222,1725 1230,1708 1238,1706 Z" fill="#c6c7c9"/>
 <path d="M1243,1722 C1253,1722 1258,1730 1260,1745 C1262,1765 1262,1785 1258,1798 C1253,1806 1243,1806 1230,1806 C1220,1806 1214,1800 1214,1790 C1214,1775 1218,1760 1225,1745 C1230,1733 1236,1722 1243,1722 Z" fill="#98989a"/>
 <ellipse cx="1248.5" cy="1700" rx="7.7" ry="2.8" fill="#111"/>
 <!-- muscles -->
 <path d="M1220,1686 C1228,1682 1245,1681 1260,1682 C1268,1684 1274,1689 1273.8,1693 C1270,1696 1262,1694 1250,1692 C1240,1692 1235,1694 1230,1696 C1224,1697 1219,1693 1220,1686 Z" fill="#3fa3dc"/>
 <path d="M1207,1700 C1212,1698 1215,1702 1213,1709 C1210,1716 1205,1722 1202,1727 C1195,1740 1188,1752 1184,1766 C1182,1775 1180,1782 1175,1783 C1170,1783 1167,1778 1166,1768 C1166,1750 1170,1730 1176,1715 C1182,1707 1195,1702 1207,1700 Z" fill="#2f6fba"/>
 <ellipse cx="1184" cy="1816.5" rx="12" ry="24" transform="rotate(-25 1184 1816.5)" fill="#8dc03f"/>
 <path d="M1308,1722 C1314,1720 1318,1728 1318,1742 C1318,1760 1312,1780 1304,1800 C1300,1808 1296,1813 1292,1812 C1288,1810 1288,1800 1290,1790 C1294,1770 1298,1750 1302,1732 C1304,1726 1305,1723 1308,1722 Z" fill="#f2ae45"/>
 <ellipse cx="1289.5" cy="1749" rx="6" ry="19" fill="#d4d5d7" stroke="#b0b1b3" stroke-width="0.8"/>
</g>
<g stroke="#1d1d1b" stroke-width="1.1">
 <line x1="1115.5" y1="1686" x2="1236.5" y2="1686"/>
 <line x1="1135.2" y1="1754.3" x2="1173.8" y2="1754.3"/>
 <line x1="1139.5" y1="1820" x2="1178.1" y2="1820"/>
 <line x1="1300" y1="1788.3" x2="1325.8" y2="1788.3"/>
</g>
<g font-size="16" fill="#1d1d1b">
 <text x="1102" y="1692">1</text>
 <text x="1125.5" y="1760">2</text>
 <text x="1126.3" y="1824.3">3</text>
 <text x="1331.5" y="1794.3">4</text>
</g>
<g fill="#1d1d1b" font-size="19.4" text-anchor="middle">
 <text x="886" y="1895">Pravé rameno,</text>
 <text x="886" y="1920">pohled zepředu a zezadu</text>
 <text x="1224.5" y="1895">Pravé rameno,</text>
 <text x="1224.5" y="1920">pohled z boku</text>
</g>
<!-- ===== details: faces & hands ===== -->
<g fill="none" stroke="#8a8a8c" stroke-width="1" stroke-linecap="round">
 <!-- fig4b face -->
 <path d="M1222,1340 C1225,1338 1228,1338 1230,1340 M1236,1340 C1238,1338 1241,1338 1244,1340"/>
 <path d="M1221,1342 C1224,1344 1228,1344 1230,1342 M1236,1342 C1239,1344 1242,1344 1245,1342"/>
 <path d="M1233,1343 L1232,1352 C1230,1354 1231,1355 1234,1355 C1236,1355 1237,1354 1236,1352"/>
 <path d="M1228,1360 C1232,1362 1236,1362 1239,1360"/>
 <path d="M1212,1336 C1210,1340 1211,1346 1214,1348 M1254,1336 C1256,1340 1255,1346 1252,1348"/>
 <path d="M1195,1420 C1200,1430 1212,1436 1225,1435 M1240,1435 C1255,1436 1265,1430 1270,1420"/>
 <path d="M1210,1500 C1220,1498 1230,1498 1233,1500 M1240,1500 C1245,1498 1255,1498 1260,1500"/>
 <!-- fig4b body hands fingers -->
 <path d="M1170,1548 L1168,1564 M1175,1550 L1174,1568 M1181,1550 L1182,1567 M1187,1548 L1190,1562"/>
 <path d="M1283,1548 L1283,1562 M1289,1550 L1290,1567 M1295,1550 L1297,1567 M1301,1548 L1305,1562"/>
 <!-- fig3 face -->
 <path d="M1208,1098 C1205,1102 1205,1108 1208,1112" stroke-width="1.2"/>
 <path d="M1226,1097 L1234,1097" />
 <path d="M1230,1118 C1233,1119 1236,1119 1238,1117"/>
 <!-- fig4a face -->
 <path d="M886,1345 C884,1348 884,1352 887,1355"/>
 <path d="M904,1343 L911,1343"/>
 <!-- fig4a hand -->
 <path d="M905,1495 C910,1505 915,1520 917,1540 M910,1500 C914,1512 917,1525 918,1538 M900,1505 C903,1518 907,1530 910,1542"/>
</g>
<g fill="none" stroke-linecap="round" stroke-width="1.1">
 <path d="M1092,1282 L1098,1290 M1096,1277 L1103,1287 M1102,1276 L1108,1286 M1110,1277 L1112,1288" stroke="#c0302b"/>
 <path d="M1033,1386 L1046,1389 M1031,1393 L1046,1395 M1033,1400 L1048,1400 M1038,1406 L1050,1405" stroke="#c0302b"/>
 <path d="M1071,1492 L1080,1497 M1070,1499 L1080,1502 M1073,1506 L1083,1506 M1080,1510 L1088,1508" stroke="#c0302b"/>
 <path d="M1222,1548 L1224,1560 M1228,1550 L1230,1563 M1234,1550 L1236,1562 M1240,1548 L1243,1558" stroke="#e0288a"/>
 <path d="M812,1500 L811,1512 M817,1500 L815,1515 M822,1499 L821,1515 M826,1497 L827,1510" stroke="#2e75b8"/>
 <path d="M995,1366 L1015,1364 M997,1371 L1017,1368 M999,1376 L1013,1374" stroke="#93338e"/>
 <path d="M985,1464 L1004,1470 M988,1470 L1004,1474 M990,1474 L1000,1476" stroke="#93338e"/>
 <path d="M898,1276 L898,1290 M903,1272 L903,1290 M907,1274 L907,1290" stroke="#c77ac4"/>
 <path d="M1264,1160 L1278,1162 M1266,1166 L1279,1168 M1265,1172 L1276,1174" stroke="#8a8a8c"/>
</g>
</svg>

</body></html>
